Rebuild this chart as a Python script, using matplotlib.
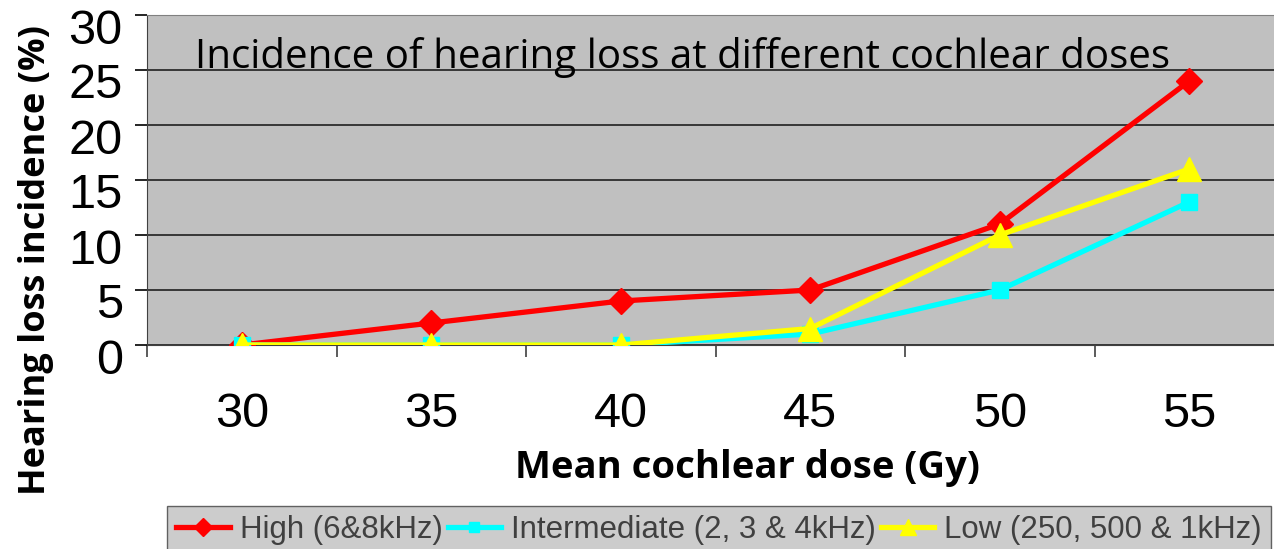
import matplotlib
matplotlib.use("Agg")
import matplotlib.pyplot as plt
from matplotlib.transforms import ScaledTranslation
import numpy as np

# data
doses = ["30", "35", "40", "45", "50", "55"]
high = [0, 2, 4, 5, 11, 24]
intermediate = [0, 0, 0, 1, 5, 13]
low = [0, 0, 0, 1.5, 10, 16]
series_labels = ["High (6&8kHz)", "Intermediate (2, 3 & 4kHz)", "Low (250, 500 & 1kHz)"]
y_ticks = [0, 5, 10, 15, 20, 25, 30]

fig = plt.figure(figsize=(12.74, 5.49), dpi=100)
ax = fig.add_axes([147 / 1274, 1 - 345 / 549, (1284 - 147) / 1274, 330 / 549])
ax.set_facecolor("#c0c0c0")

x = np.arange(len(doses))
l1, = ax.plot(x, high, color="red", lw=3.8, marker="D", ms=13, zorder=3)
l2, = ax.plot(x, intermediate, color="cyan", lw=3.8, marker="s", ms=11, zorder=4)
l3, = ax.plot(x, low, color="yellow", lw=3.8, marker="^", ms=17, zorder=5)

ax.set_xlim(-0.5, len(doses) - 0.5)
ax.set_ylim(0, 30)
ax.set_yticks(y_ticks)
ax.set_yticklabels([str(v) for v in y_ticks], fontsize=35, family="Liberation Sans")
ax.set_xticks(x)
ax.set_xticklabels(doses, fontsize=35, family="Liberation Sans")
ax.set_xticks(np.arange(-0.5, len(doses), 1), minor=True)
ax.tick_params(axis="x", which="major", length=0, pad=34)
ax.tick_params(axis="x", which="minor", length=8.5, width=1.2, color="#404040")
ax.tick_params(axis="y", length=8.5, width=1.2, pad=9)
ax.yaxis.grid(True, color="#202020", lw=1.2)
ax.set_axisbelow(True)

# y labels sit a little below their gridlines in the original
shift = ScaledTranslation(0, -11 / 100, fig.dpi_scale_trans)
for lab in ax.get_yticklabels():
    lab.set_transform(lab.get_transform() + shift)

ax.spines["right"].set_visible(False)
ax.spines["top"].set_color("#808080")
ax.spines["left"].set_color("#404040")
ax.spines["bottom"].set_color("#404040")

ax.text(0.471, 0.87, "Incidence of hearing loss at different cochlear doses",
        transform=ax.transAxes, ha="center", va="center", fontsize=29,
        family="Open Sans", zorder=6)

ax.set_xlabel("Mean cochlear dose (Gy)", fontsize=27.5, fontweight="bold",
              family="Open Sans")
ax.xaxis.set_label_coords(0.5277, -0.373)
ax.xaxis.label.set_va("center")
fig.text(36 / 1274, 1 - 260 / 549, "Hearing loss incidence (%)", rotation=90,
         ha="center", va="center", fontsize=26, fontweight="bold", family="Open Sans")

leg = fig.legend([l1, l2, l3], series_labels, loc="upper left",
                 bbox_to_anchor=(167 / 1274, 1 - 506 / 549), ncol=3,
                 frameon=True, fancybox=False, handlelength=1.7,
                 handletextpad=0.33, columnspacing=0.16, borderpad=0.3,
                 borderaxespad=0,
                 prop={"family": "Liberation Sans", "size": 22.5},
                 markerscale=0.7)
leg.get_frame().set_facecolor("#c0c0c0")
leg.get_frame().set_edgecolor("#404040")
for t in leg.get_texts():
    t.set_color("#404040")

fig.savefig("out.png", dpi=100)
